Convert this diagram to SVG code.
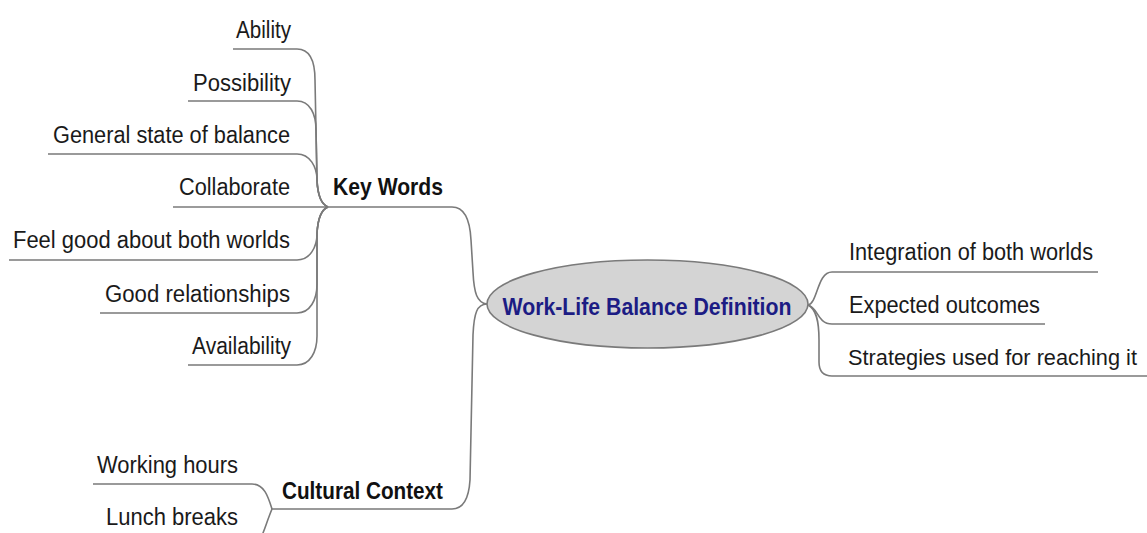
<svg xmlns="http://www.w3.org/2000/svg" width="1147" height="533" viewBox="0 0 1147 533">
<style>
.t{font-family:"Liberation Sans",Arial,sans-serif;font-size:23.5px;fill:#1a1a1a}
.tr{text-anchor:end}
.b{font-family:"Liberation Sans",Arial,sans-serif;font-size:24.5px;font-weight:bold;fill:#111}
.ln{fill:none;stroke:#7a7a7a;stroke-width:1.6}
</style>
<rect width="1147" height="533" fill="#ffffff"/>
<g id="connectors">
<path class="ln" d="M233,49 H297 C310,49 315,62 315,80 L317,180 Q318,203 328,207"/>
<path class="ln" d="M188,101 H297 C310,101 316,114 316,130 L317,180 Q318,203 328,207"/>
<path class="ln" d="M48,154 H297 C310,154 317,167 317,180 Q318,203 328,207"/>
<path class="ln" d="M173,207 H328"/>
<path class="ln" d="M9,260 H297 C310,260 317,247 317,234 Q318,211 328,207"/>
<path class="ln" d="M100,313 H297 C310,313 317,300 317,284 L317,234 Q318,211 328,207"/>
<path class="ln" d="M188,365 H297 C310,365 317,352 317,336 L317,234 Q318,211 328,207"/>
<path class="ln" d="M328,207 H452 C465,207 470,220 471,240 L473,272 C474,293 477,303 487,304"/>
<path class="ln" d="M272,509 H452 C465,509 469,496 470,480 L473,335 C474,313 477,304 487,304"/>
<path class="ln" d="M93,484 H252 C264,484 268,496 272,509"/>
<path class="ln" d="M272,509 C267,521 264,532 260,540"/>
<path class="ln" d="M808,305 C818,303 817,272 832,272 H1098"/>
<path class="ln" d="M808,305 C818,307 817,324 832,324 H1045"/>
<path class="ln" d="M808,305 C816,309 819,320 819,340 L819,362 C819,372 824,376 832,376 H1147"/>
</g>
<g id="central">
<ellipse cx="647.5" cy="304" rx="160.5" ry="44" fill="#d4d4d4" stroke="#7a7a7a" stroke-width="1.6"/>
<text class="b" x="647" y="315" text-anchor="middle" style="fill:#1c1c84" textLength="289" lengthAdjust="spacingAndGlyphs">Work-Life Balance Definition</text>
</g>
<g id="key-words"><text class="b" x="333" y="195" textLength="110" lengthAdjust="spacingAndGlyphs">Key Words</text></g>
<g id="cultural-context"><text class="b" x="282" y="499" textLength="161" lengthAdjust="spacingAndGlyphs">Cultural Context</text></g>
<g id="ability"><text class="t tr" x="291" y="38" textLength="55" lengthAdjust="spacingAndGlyphs">Ability</text></g>
<g id="possibility"><text class="t tr" x="291" y="91" textLength="98" lengthAdjust="spacingAndGlyphs">Possibility</text></g>
<g id="general-state"><text class="t tr" x="290" y="143" textLength="237" lengthAdjust="spacingAndGlyphs">General state of balance</text></g>
<g id="collaborate"><text class="t tr" x="290" y="195" textLength="111" lengthAdjust="spacingAndGlyphs">Collaborate</text></g>
<g id="feel-good"><text class="t tr" x="290" y="248" textLength="277" lengthAdjust="spacingAndGlyphs">Feel good about both worlds</text></g>
<g id="good-relationships"><text class="t tr" x="290" y="302" textLength="185" lengthAdjust="spacingAndGlyphs">Good relationships</text></g>
<g id="availability"><text class="t tr" x="291" y="354" textLength="99" lengthAdjust="spacingAndGlyphs">Availability</text></g>
<g id="working-hours"><text class="t" x="97" y="473" textLength="141" lengthAdjust="spacingAndGlyphs">Working hours</text></g>
<g id="lunch-breaks"><text class="t" x="106" y="525" textLength="132" lengthAdjust="spacingAndGlyphs">Lunch breaks</text></g>
<g id="integration"><text class="t" x="849" y="260" textLength="244" lengthAdjust="spacingAndGlyphs">Integration of both worlds</text></g>
<g id="expected-outcomes"><text class="t" x="849" y="313" textLength="191" lengthAdjust="spacingAndGlyphs">Expected outcomes</text></g>
<g id="strategies"><text class="t" x="848" y="365" style="font-size:21.5px" textLength="289" lengthAdjust="spacingAndGlyphs">Strategies used for reaching it</text></g>
</svg>
